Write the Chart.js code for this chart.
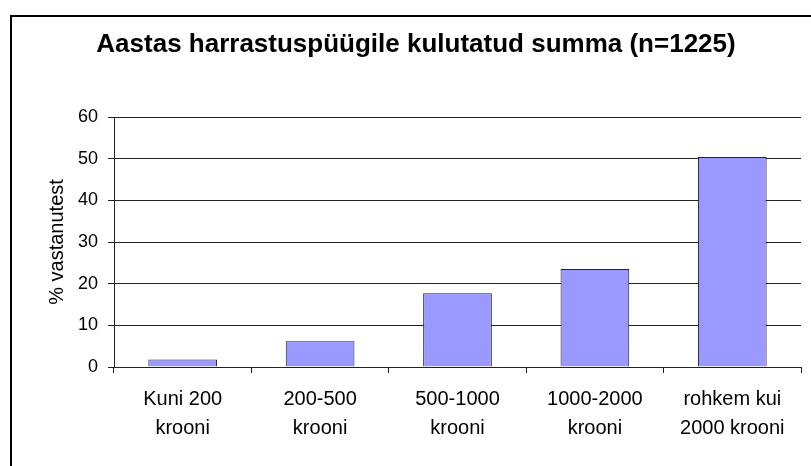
<!DOCTYPE html>
<html>
<head>
<meta charset="utf-8">
<script src="https://cdn.jsdelivr.net/npm/chart.js@4.4.0/dist/chart.umd.min.js"></script>
<style>
html,body{margin:0;padding:0;background:#fff;overflow:hidden;}
#wrap{position:relative;width:811px;height:466px;}
</style>
</head>
<body>
<div id="wrap"><canvas id="c" width="811" height="466"></canvas></div>
<script>
const categories = [["Kuni 200","krooni"],["200-500","krooni"],["500-1000","krooni"],["1000-2000","krooni"],["rohkem kui","2000 krooni"]];
const values = [1.8, 6.2, 17.7, 23.5, 50.4];
const yMin = 0, yMax = 60, yStep = 10;
const titleText = "Aastas harrastuspüügile kulutatud summa (n=1225)";
const yTitle = "% vastanutest";

const frame = {
  id:'frame',
  beforeDraw(chart){
    const ctx = chart.ctx;
    ctx.save();
    ctx.fillStyle='#fff';
    ctx.fillRect(0,0,chart.width,chart.height);
    ctx.strokeStyle='#000';
    ctx.lineWidth=2;
    ctx.strokeRect(11,16,900,600);
    ctx.restore();
  }
};

new Chart(document.getElementById('c'), {
  type:'bar',
  data:{labels:categories,datasets:[{data:values,backgroundColor:'#9999FF',borderColor:'#222',borderWidth:1,categoryPercentage:1,barPercentage:0.5}]},
  plugins:[frame],
  options:{
    responsive:false,animation:false,
    layout:{padding:{left:31,right:10,top:0,bottom:0}},
    plugins:{
      legend:{display:false},tooltip:{enabled:false},
      title:{display:true,text:titleText,color:'#000',font:{family:'Liberation Sans, Arial',size:26,weight:'bold',lineHeight:1.2},padding:{top:29,bottom:56.8}}
    },
    scales:{
      x:{
        offset:true,
        grid:{display:true,drawOnChartArea:false,drawTicks:true,tickLength:6,color:'#222'},
        border:{display:true,color:'#222',width:1},
        ticks:{color:'#000',font:{family:'Liberation Sans, Arial',size:20,lineHeight:1.45},padding:12,maxRotation:0,autoSkip:false},
        afterFit(s){s.height=99;}
      },
      y:{
        min:yMin,max:yMax,
        grid:{color:'#222',tickLength:6,drawTicks:true},
        border:{display:true,color:'#222',width:1},
        ticks:{stepSize:yStep,color:'#000',font:{family:'Liberation Sans, Arial',size:18},padding:10},
        title:{display:true,text:yTitle,color:'#000',font:{family:'Liberation Sans, Arial',size:20,lineHeight:1.2},padding:{top:14,bottom:0}},
        afterFit(s){s.width=83;}
      }
    }
  }
});
</script>
</body>
</html>
